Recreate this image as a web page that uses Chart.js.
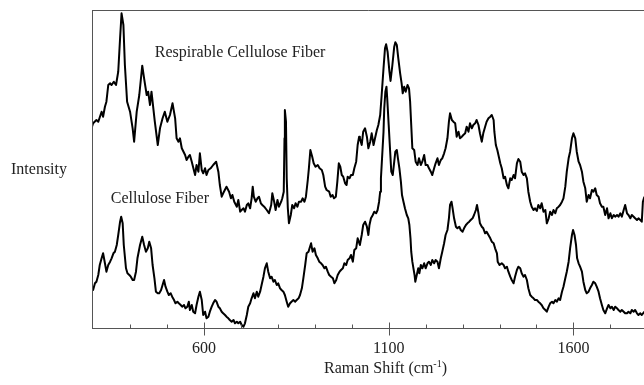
<!DOCTYPE html>
<html lang="en">
<head>
  <meta charset="UTF-8" />
  <title>Raman spectra - cellulose fiber</title>
  <script src="https://cdn.jsdelivr.net/npm/chart.js"></script>
  <style>
    html, body { margin: 0; padding: 0; background: #fff; }
    #wrap { width: 644px; height: 385px; }
  </style>
</head>
<body>
  <div id="wrap"><canvas id="chart" width="644" height="385"></canvas></div>

  <script>
    // Respirable cellulose fiber (upper trace), Raman shift in cm-1 / intensity (arb.)
    const respShift = [
      297, 300, 309, 314, 323, 327, 332, 336, 341, 346, 350, 356, 362, 368, 373, 377, 382, 386, 392, 400,
      407, 411, 418, 425, 433, 438, 445, 449, 454, 458, 463, 467, 475, 481, 488, 494, 501, 508, 515, 522,
      526, 531, 535, 540, 549, 553, 558, 562, 567, 576, 580, 585, 589, 594, 598, 603, 607, 612, 618, 625,
      633, 639, 643, 648, 652, 661, 668, 673, 677, 682, 689, 693, 698, 702, 707, 711, 716, 720, 725, 729,
      732, 735, 740, 745, 749, 754, 758, 763, 770, 776, 782, 785, 790, 794, 799, 803, 809, 812, 816, 818,
      819, 822, 824, 827, 830, 835, 839, 844, 848, 853, 857, 863, 867, 872, 876, 881, 884, 888, 893, 897,
      902, 908, 913, 919, 923, 928, 932, 939, 943, 948, 952, 957, 961, 965, 969, 973, 977, 982, 986, 989,
      994, 998, 1003, 1007, 1012, 1016, 1020, 1022, 1027, 1031, 1036, 1041, 1045, 1050, 1054, 1059, 1063, 1068, 1072, 1077,
      1081, 1086, 1090, 1093, 1097, 1102, 1105, 1110, 1115, 1118, 1122, 1126, 1131, 1135, 1138, 1142, 1146, 1151, 1155, 1158,
      1161, 1164, 1169, 1173, 1178, 1182, 1187, 1191, 1196, 1200, 1205, 1209, 1214, 1218, 1223, 1227, 1232, 1236, 1241, 1245,
      1250, 1254, 1259, 1263, 1266, 1271, 1275, 1280, 1284, 1289, 1293, 1298, 1302, 1307, 1311, 1316, 1320, 1325, 1329, 1334,
      1338, 1343, 1347, 1352, 1356, 1361, 1365, 1370, 1375, 1379, 1384, 1386, 1390, 1394, 1399, 1402, 1406, 1411, 1415, 1420,
      1424, 1429, 1433, 1438, 1442, 1447, 1451, 1456, 1460, 1465, 1469, 1474, 1478, 1483, 1487, 1492, 1496, 1501, 1505, 1510,
      1514, 1519, 1524, 1528, 1533, 1537, 1542, 1546, 1551, 1555, 1560, 1564, 1569, 1573, 1578, 1582, 1587, 1591, 1596, 1600,
      1605, 1609, 1614, 1618, 1623, 1627, 1632, 1636, 1641, 1645, 1650, 1654, 1659, 1663, 1668, 1672, 1677, 1681, 1686, 1691,
      1695, 1700, 1704, 1709, 1713, 1718, 1722, 1727, 1731, 1736, 1740, 1745, 1749, 1754, 1758, 1763, 1767, 1772, 1776, 1781,
      1785, 1788, 1792
    ];
    const respInt = [
      201.3, 204.7, 208, 206.3, 216.3, 211.3, 221.3, 226.3, 243, 244.7, 243, 246.3, 243, 256.3, 289.7, 314.7, 303, 263, 226.3, 216.3,
      199.7, 186.3, 216.3, 233, 262.3, 249.7, 233, 236.3, 223, 236.3, 219.7, 206.3, 183, 199.7, 209.7, 216.3, 206.3, 213, 224.7, 209.7,
      189.7, 186.3, 189.7, 179.7, 173, 168, 171.3, 173, 166.3, 153, 163, 156.3, 174.7, 158, 154.7, 159.7, 153, 158, 159.7, 163,
      166.3, 156.3, 143, 131.3, 134.7, 141.3, 136.3, 129.7, 133, 126.3, 121.3, 128, 116.3, 118, 119.7, 116.3, 123, 124.7, 119.7, 129.7,
      141.3, 131.3, 126.3, 129.7, 131.3, 124.7, 123, 121.3, 118, 114.7, 123, 134.7, 126.3, 118, 128, 121.3, 126.3, 129.7, 136.3, 189.7,
      218, 206.3, 149.7, 119.7, 104.7, 113, 123, 119.7, 124.7, 121.3, 126.3, 126.3, 129.7, 126.3, 131.3, 148, 159.7, 178, 171.3, 164.7,
      161.3, 163, 159.7, 158, 153, 141.3, 138, 136.3, 131.3, 133, 129.7, 131.3, 146.3, 164.7, 161.3, 153, 151.3, 144.7, 143, 151.3,
      149.7, 153, 153, 159.7, 166.3, 183, 191.3, 189.7, 183, 196.3, 199.7, 191.3, 179.7, 186.3, 194.7, 183, 189.7, 198, 203, 213,
      233, 259.7, 279.7, 283.7, 276.3, 256.3, 247, 263, 281.3, 285.7, 283, 269.7, 254.7, 244.7, 234.7, 241.3, 236.3, 243, 239.7, 226.3,
      203, 179.7, 178, 166.3, 163, 169.7, 163, 166.3, 173, 163, 163, 159.7, 156.3, 153, 159.7, 164.7, 169.7, 163, 168, 169.7,
      174.7, 179.7, 189.7, 206.3, 214.7, 208, 206.3, 204.7, 191.3, 196.3, 189.7, 191.3, 193, 194.7, 201.3, 196.3, 204.7, 199.7, 203, 204.7,
      208, 203, 194.7, 186.3, 194.7, 201.3, 206.3, 209.7, 211.3, 213, 208, 196.3, 183, 178, 169.7, 164.7, 159.7, 149.7, 151.3, 143,
      139.7, 149.7, 148, 153, 149.7, 164.7, 169, 166.3, 156.3, 153, 154.7, 149.7, 136.3, 126.3, 121.3, 118, 119.7, 117, 123, 119.7,
      124.7, 116.3, 118, 104.7, 109.7, 116.3, 113, 118, 114.7, 119.7, 121.3, 123, 126.3, 129.7, 141.3, 156.3, 169.7, 176.3, 189.7, 194.7,
      189.7, 176.3, 166.3, 163, 156.3, 146.3, 139.7, 126.3, 133, 129.7, 138, 136.3, 139.7, 133, 131.3, 124.7, 121.3, 121.3, 113, 119.7,
      109.7, 114.7, 109.7, 113, 111.3, 113, 111.3, 114.7, 111.3, 118, 123, 114.7, 113, 109.7, 113, 111.3, 109.7, 108, 109.7, 108,
      106.3, 126.3, 131.3
    ];

    // Cellulose fiber (lower trace)
    const cellShift = [
      297, 300, 305, 309, 314, 318, 323, 327, 332, 336, 341, 346, 350, 355, 359, 364, 368, 373, 376, 380,
      383, 389, 393, 398, 402, 407, 411, 416, 420, 427, 433, 438, 443, 448, 452, 457, 461, 466, 470, 475,
      479, 484, 488, 492, 496, 501, 505, 510, 514, 519, 523, 528, 532, 537, 541, 546, 550, 555, 559, 562,
      567, 571, 576, 580, 585, 589, 594, 598, 603, 607, 612, 616, 621, 625, 630, 634, 639, 643, 648, 652,
      657, 661, 666, 670, 675, 680, 684, 689, 693, 698, 702, 707, 711, 716, 720, 725, 729, 734, 738, 743,
      747, 752, 756, 761, 765, 770, 774, 779, 783, 788, 792, 797, 801, 806, 810, 815, 819, 824, 828, 833,
      837, 842, 847, 851, 856, 860, 865, 869, 874, 878, 883, 887, 890, 894, 899, 903, 908, 912, 917, 921,
      926, 930, 935, 939, 944, 949, 953, 958, 962, 967, 971, 976, 980, 985, 989, 994, 998, 1003, 1007, 1012,
      1016, 1022, 1027, 1031, 1036, 1041, 1045, 1048, 1052, 1057, 1061, 1066, 1070, 1074, 1077, 1079, 1083, 1086, 1088, 1091,
      1094, 1096, 1100, 1104, 1107, 1111, 1115, 1118, 1122, 1125, 1129, 1133, 1136, 1140, 1144, 1149, 1153, 1156, 1159, 1161,
      1164, 1167, 1170, 1172, 1176, 1180, 1183, 1187, 1191, 1196, 1200, 1205, 1209, 1214, 1218, 1223, 1227, 1232, 1236, 1241,
      1245, 1250, 1254, 1259, 1263, 1266, 1270, 1273, 1277, 1282, 1286, 1291, 1295, 1300, 1304, 1309, 1313, 1318, 1322, 1327,
      1331, 1336, 1339, 1343, 1347, 1352, 1356, 1361, 1365, 1370, 1375, 1379, 1384, 1388, 1393, 1395, 1400, 1406, 1411, 1415,
      1420, 1424, 1429, 1433, 1438, 1442, 1447, 1451, 1456, 1460, 1465, 1469, 1474, 1478, 1483, 1487, 1492, 1496, 1501, 1505,
      1510, 1514, 1519, 1524, 1528, 1533, 1537, 1542, 1546, 1551, 1555, 1560, 1564, 1569, 1573, 1578, 1582, 1587, 1591, 1596,
      1599, 1603, 1607, 1610, 1614, 1618, 1623, 1627, 1632, 1636, 1641, 1645, 1650, 1654, 1659, 1663, 1668, 1672, 1677, 1681,
      1686, 1691, 1695, 1700, 1704, 1709, 1713, 1718, 1722, 1727, 1731, 1736, 1740, 1745, 1749, 1754, 1758, 1763, 1767, 1772,
      1776, 1781, 1785, 1792
    ];
    const cellInt = [
      39.7, 38, 44.7, 46.3, 53, 63, 69.7, 74.7, 64.7, 56.3, 63, 66.3, 69.7, 74.7, 76.3, 83, 93, 106.3, 111.3, 104.7,
      83, 59.7, 54.7, 53, 51.3, 48, 48, 56.3, 69.7, 83, 91.3, 83, 76.3, 79.7, 86.3, 79.7, 63, 49.7, 36.3, 34.7,
      34.7, 38, 43, 48, 41.3, 36.3, 33, 34.7, 31.3, 28, 24.7, 26.3, 24.7, 23, 21.3, 23, 19.7, 21.3, 26.3, 18,
      23, 16.3, 14.7, 23, 31.3, 36.3, 28, 13, 16.3, 9.7, 11.3, 16.3, 21.3, 24.7, 28, 26.3, 21.3, 19.7, 16.3, 14.7,
      13, 11.3, 9.7, 8, 6.3, 8, 4.7, 6.3, 4.7, 6.3, 3, 1.3, 4.7, 13, 21.3, 24.7, 29.7, 34.7, 29.7, 36.3,
      31.3, 36.3, 43, 51.3, 59.7, 64.7, 56.3, 49.7, 51.3, 46.3, 48, 43, 44.7, 39.7, 38, 36.3, 33, 26.3, 21.3, 24.7,
      26.3, 28, 26.3, 28, 29.7, 33, 39.7, 49.7, 63, 74.7, 76.3, 81.3, 84.7, 76.3, 79.7, 73, 69.7, 66.3, 64.7, 63,
      59.7, 61.3, 56.3, 53, 51.3, 49.7, 44.7, 48, 53, 56.3, 58, 59.7, 64.7, 63, 68, 69.7, 73, 66.3, 78, 79.7,
      89.7, 83, 93, 103, 106.3, 101.3, 93, 103, 109.7, 113, 116.3, 114.7, 118, 126.3, 136.3, 149.7, 176.3, 196.3, 219.7, 236.3,
      241.3, 229.7, 203, 176.3, 156.3, 153, 166.3, 176.3, 178, 169.7, 159.7, 146.3, 133, 126.3, 119.7, 113, 109.7, 103, 89.7, 76.3,
      66.3, 59.7, 53, 46.3, 53, 59.7, 54.7, 63, 59.7, 64.7, 59.7, 64.7, 66.3, 63, 68, 64.7, 68, 66.3, 59.7, 69.7,
      76.3, 84.7, 93, 98, 109.7, 123, 126.3, 119.7, 109.7, 101.3, 99.7, 101.3, 98, 96.3, 99.7, 103, 104.7, 106.3, 108, 109.7,
      113, 118, 123, 114.7, 104.7, 101.3, 99.7, 94.7, 96.3, 93, 89.7, 86.3, 84.7, 79.7, 74.7, 66.3, 63, 64.7, 63, 59.7,
      61.3, 56.3, 51.3, 48, 44.7, 51.3, 58, 61.3, 59.7, 54.7, 51.3, 53, 48, 39.7, 33, 31.3, 29.7, 28, 28, 26.3,
      24.7, 23, 19.7, 18, 16.3, 21.3, 24.7, 26.3, 24.7, 28, 26.3, 29.7, 28, 36.3, 41.3, 49.7, 56.3, 66.3, 79.7, 93,
      98, 93, 83, 69.7, 64.7, 61.3, 56.3, 46.3, 38, 34.7, 36.3, 39.7, 43, 46.3, 44.7, 41.3, 36.3, 29.7, 23, 18,
      14.7, 19.7, 23, 19.7, 21.3, 18, 21.3, 19.7, 18, 16.3, 18, 16.3, 14.7, 14.7, 16.3, 14.7, 18, 16.3, 18, 14.7,
      13, 14.7, 13, 16.3
    ];

    const majorTicks = [600, 1100, 1600];
    const minorTicks = [400, 500, 700, 800, 900, 1000, 1200, 1300, 1400, 1500, 1700];
    const seriesNames = ['Respirable Cellulose Fiber', 'Cellulose Fiber'];

    const toPoints = (xs, ys) => xs.map((x, i) => ({ x: x, y: ys[i] }));

    const serif = '"Liberation Serif", "Times New Roman", serif';

    // axes frame, ticks and all text drawn on top of the chart
    const framePlugin = {
      id: 'frame',
      afterDraw(chart) {
        const { ctx, chartArea: a, scales } = chart;
        const x = scales.x, y = scales.y;
        const bottom = Math.round(a.bottom) + 0.5;
        ctx.save();
        ctx.strokeStyle = '#555';
        ctx.lineWidth = 1;
        ctx.beginPath();
        ctx.moveTo(a.left + 0.5, a.top + 0.5);
        ctx.lineTo(a.right, a.top + 0.5);
        ctx.moveTo(a.left + 0.5, a.top);
        ctx.lineTo(a.left + 0.5, bottom);
        ctx.moveTo(a.left, bottom);
        ctx.lineTo(a.right, bottom);
        majorTicks.forEach(v => {
          const px = Math.round(x.getPixelForValue(v)) + 0.5;
          ctx.moveTo(px, bottom - 6);
          ctx.lineTo(px, bottom + 7);
        });
        minorTicks.forEach(v => {
          const px = Math.round(x.getPixelForValue(v)) + 0.5;
          ctx.moveTo(px, bottom - 4);
          ctx.lineTo(px, bottom);
        });
        ctx.stroke();

        ctx.fillStyle = '#222';
        ctx.font = '16px ' + serif;
        ctx.textBaseline = 'alphabetic';
        ctx.textAlign = 'center';
        majorTicks.forEach(v => ctx.fillText(String(v), x.getPixelForValue(v), bottom + 24));

        // x axis title with superscript
        const main = 'Raman Shift (cm';
        const sup = '-1';
        const close = ')';
        ctx.font = '16px ' + serif;
        const wMain = ctx.measureText(main).width;
        const wClose = ctx.measureText(close).width;
        ctx.font = '10px ' + serif;
        const wSup = ctx.measureText(sup).width;
        let tx = 385.5 - (wMain + wSup + wClose) / 2;
        const ty = bottom + 44;
        ctx.textAlign = 'left';
        ctx.font = '16px ' + serif;
        ctx.fillText(main, tx, ty);
        tx += wMain;
        ctx.font = '10px ' + serif;
        ctx.fillText(sup, tx, ty - 6);
        tx += wSup;
        ctx.font = '16px ' + serif;
        ctx.fillText(close, tx, ty);

        // y axis title, horizontal on the left
        ctx.fillText('Intensity', 11, 173.5);

        // series names inside the plot
        ctx.fillText(seriesNames[0], x.getPixelForValue(467), y.getPixelForValue(271.5));
        ctx.fillText(seriesNames[1], x.getPixelForValue(348), y.getPixelForValue(125));
        ctx.restore();
      }
    };

    new Chart(document.getElementById('chart'), {
      type: 'line',
      data: {
        datasets: [
          { label: seriesNames[0], data: toPoints(respShift, respInt) },
          { label: seriesNames[1], data: toPoints(cellShift, cellInt) }
        ]
      },
      options: {
        responsive: false,
        animation: false,
        layout: { padding: { left: 92, right: 0, top: 10, bottom: 57 } },
        elements: {
          point: { radius: 0, hoverRadius: 0 },
          line: { borderColor: '#000', borderWidth: 2, tension: 0, borderJoinStyle: 'round', fill: false }
        },
        scales: {
          x: { type: 'linear', min: 297, max: 1791, display: false },
          y: { type: 'linear', min: 0, max: 318, display: false }
        },
        plugins: {
          legend: { display: false },
          tooltip: { enabled: false }
        }
      },
      plugins: [framePlugin]
    });
  </script>
</body>
</html>
